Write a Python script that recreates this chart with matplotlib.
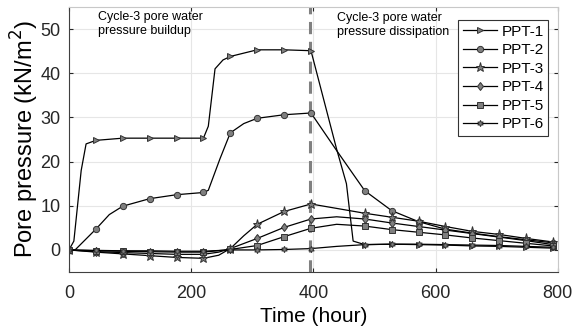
import matplotlib.pyplot as plt
from matplotlib.ticker import MultipleLocator

plt.rcParams['font.family'] = ['Liberation Sans', 'DejaVu Sans']

# --- data (time in hours, pressure in kN/m^2) ---
t_ppt1 = [0, 8, 20, 28, 44, 88, 132, 176, 220, 228, 239, 252, 264, 308, 352, 396,
          438, 454, 465, 484, 528, 572, 616, 660, 704, 748, 792]
ppt1 = [0, 2, 18, 24, 24.8, 25.3, 25.3, 25.3, 25.3, 28, 41, 43, 43.8, 45.3, 45.3, 45.1,
        22.8, 15, 2, 1.2, 1.3, 1.2, 1.1, 0.9, 0.8, 0.6, 0.4]

t_ppt2 = [0, 10, 44, 66, 88, 132, 176, 220, 228, 247, 264, 286, 308, 352, 396,
          438, 484, 528, 572, 616, 660, 704, 748, 792]
ppt2 = [0, 0, 4.7, 8.0, 9.9, 11.6, 12.5, 13.0, 13.5, 20.6, 26.5, 28.6, 29.8, 30.6, 31.0,
        22.5, 13.4, 8.9, 6.4, 4.7, 3.8, 3.0, 2.3, 1.6]

t_ppt3 = [0, 44, 88, 132, 176, 220, 245, 264, 286, 308, 352, 396, 438, 484, 528, 572,
          616, 660, 704, 748, 792]
ppt3 = [0, -0.5, -0.9, -1.3, -1.7, -1.9, -1.2, 0.3, 3.2, 5.8, 8.7, 10.4, 9.4, 8.3, 7.4, 6.5,
        5.3, 4.2, 3.5, 2.6, 1.8]

t_ppt4 = [0, 44, 88, 132, 176, 220, 245, 264, 308, 352, 396, 438, 484, 528, 572,
          616, 660, 704, 748, 792]
ppt4 = [0, -0.4, -0.6, -0.8, -1.0, -1.0, -0.5, 0.3, 2.6, 5.1, 7.0, 7.5, 7.0, 6.1, 5.3,
        4.5, 3.7, 2.9, 2.1, 1.2]

t_ppt5 = [0, 44, 88, 132, 176, 220, 264, 308, 352, 396, 438, 484, 528, 572,
          616, 660, 704, 748, 792]
ppt5 = [0, -0.2, -0.3, -0.4, -0.5, -0.5, 0.1, 1.0, 3.0, 4.9, 5.8, 5.4, 4.6, 4.0,
        3.4, 2.7, 2.1, 1.5, 0.9]

t_ppt6 = [0, 44, 88, 132, 176, 220, 264, 308, 352, 396, 438, 484, 528, 572,
          616, 660, 704, 748, 792]
ppt6 = [0, -0.1, -0.2, -0.2, -0.3, -0.3, 0, 0, 0.1, 0.3, 0.8, 1.2, 1.3, 1.3,
        1.2, 1.1, 1.0, 0.8, 0.6]

series = [
    ('PPT-1', t_ppt1, ppt1, '>'),
    ('PPT-2', t_ppt2, ppt2, 'o'),
    ('PPT-3', t_ppt3, ppt3, '*'),
    ('PPT-4', t_ppt4, ppt4, 'd'),
    ('PPT-5', t_ppt5, ppt5, 's'),
    ('PPT-6', t_ppt6, ppt6, (6, 1, 0)),
]

fig = plt.figure(figsize=(5.86, 3.32), dpi=100)
ax = fig.add_axes([0.1177, 0.1807, 0.8343, 0.7983])

for name, t, y, m in series:
    marks = [i for i, tt in enumerate(t) if tt % 44 == 0]
    size = 6.5 if m == '*' else 4.5
    ax.plot(t, y, color='black', linewidth=0.9, marker=m, markevery=marks,
            markersize=size, markerfacecolor='#7f7f7f', markeredgecolor='#333333',
            markeredgewidth=0.7, label=name)

# boundary between buildup and dissipation
ax.axvline(394, color='#808080', linestyle=(0, (4, 2.5)), linewidth=2.2, zorder=1)

ax.text(47, 54.0, 'Cycle-3 pore water\npressure buildup', fontsize=9,
        va='top', ha='left', linespacing=1.2)
ax.text(438, 53.8, 'Cycle-3 pore water\npressure dissipation', fontsize=9,
        va='top', ha='left', linespacing=1.2)

ax.set_xlim(0, 800)
ax.set_ylim(-5, 55)
ax.xaxis.set_major_locator(MultipleLocator(200))
ax.set_yticks([0, 10, 20, 30, 40, 50])
ax.grid(True, color='#e6e6e6', linewidth=0.8)
ax.set_axisbelow(True)
ax.tick_params(direction='in', top=True, right=True, labelsize=13, length=3,
               colors='#262626')
ax.tick_params(axis='x', pad=9.5)
ax.tick_params(axis='y', pad=6)
for s in ['left', 'bottom']:
    ax.spines[s].set_color('#404040')
for s in ['top', 'right']:
    ax.spines[s].set_color('#c8c8c8')

ax.set_xlabel('Time (hour)', fontsize=15, labelpad=3.5)
ax.set_ylabel('Pore pressure (kN/m$^2$)', fontsize=17, labelpad=0)

leg = ax.legend(loc='upper right', bbox_to_anchor=(0.98, 0.951), borderaxespad=0,
                fontsize=11, fancybox=False, framealpha=1, edgecolor='#333333',
                numpoints=1, handlelength=2.2, labelspacing=0.3, borderpad=0.3,
                handletextpad=0.3)
leg.get_frame().set_linewidth(0.8)

fig.savefig('out.png', dpi=100)
